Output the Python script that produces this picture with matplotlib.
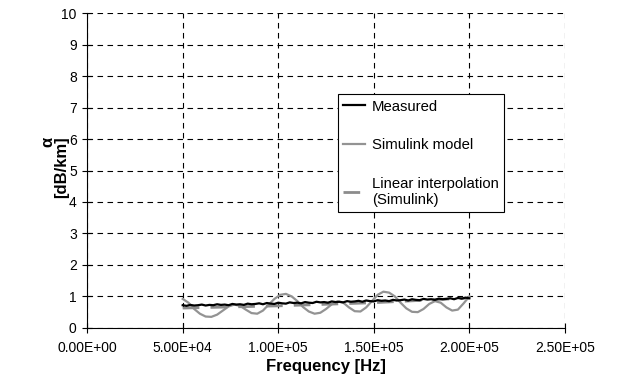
import numpy as np
import matplotlib
matplotlib.use("Agg")
import matplotlib.pyplot as plt

plt.rcParams['font.family'] = ['Liberation Sans', 'DejaVu Sans']

# Measured attenuation, sampled every 2 kHz from 50 kHz to 200 kHz
meas_freq = np.arange(50000, 200001, 2000)
meas_alpha = [0.72, 0.70, 0.73, 0.71, 0.72, 0.74, 0.71, 0.73, 0.72, 0.75,
              0.73, 0.74, 0.72, 0.76, 0.74, 0.75, 0.73, 0.77, 0.75, 0.76,
              0.78, 0.75, 0.79, 0.77, 0.76, 0.80, 0.78, 0.77, 0.81, 0.79,
              0.80, 0.78, 0.82, 0.80, 0.79, 0.83, 0.81, 0.82, 0.80, 0.84,
              0.82, 0.83, 0.81, 0.85, 0.83, 0.84, 0.86, 0.83, 0.87, 0.85,
              0.84, 0.88, 0.86, 0.87, 0.85, 0.89, 0.87, 0.88, 0.90, 0.87,
              0.91, 0.89, 0.88, 0.92, 0.90, 0.91, 0.89, 0.93, 0.91, 0.92,
              0.94, 0.91, 0.95, 0.93, 0.96, 0.94]

# Simulink model, sampled every 3 kHz
sim_freq = [50000, 53000, 56000, 59000, 62000, 65000, 68000, 71000, 74000, 77000,
            80000, 83000, 86000, 89000, 92000, 95000, 98000, 101000, 104000, 107000,
            110000, 113000, 116000, 119000, 122000, 125000, 128000, 131000, 134000, 137000,
            140000, 143000, 146000, 149000, 152000, 155000, 158000, 161000, 164000, 167000,
            170000, 173000, 176000, 179000, 182000, 185000, 188000, 191000, 194000, 197000,
            200000]
sim_alpha = [0.92, 0.80, 0.60, 0.45, 0.36, 0.35, 0.42, 0.55, 0.68, 0.74,
             0.70, 0.58, 0.47, 0.45, 0.55, 0.74, 0.92, 1.05, 1.08, 1.00,
             0.85, 0.66, 0.52, 0.45, 0.48, 0.60, 0.75, 0.84, 0.80, 0.65,
             0.53, 0.52, 0.65, 0.85, 1.05, 1.15, 1.12, 1.00, 0.80, 0.62,
             0.51, 0.50, 0.60, 0.76, 0.85, 0.80, 0.65, 0.55, 0.58, 0.78,
             1.00]

# Linear interpolation (Simulink)
lin_freq = [50000, 100000, 150000, 200000]
lin_alpha = [0.63, 0.70, 0.80, 0.95]

x_ticks = [0, 50000, 100000, 150000, 200000, 250000]
x_labels = ['0.00E+00', '5.00E+04', '1.00E+05', '1.50E+05', '2.00E+05', '2.50E+05']

fig = plt.figure(figsize=(6.27, 3.76), dpi=100)
ax = fig.add_axes([0.139, 0.128, 0.762, 0.837])

ax.plot(meas_freq, meas_alpha, color='black', lw=1.6, label='Measured', zorder=4)
ax.plot(sim_freq, sim_alpha, color='#939393', lw=1.6, label='Simulink model', zorder=3)
ax.plot(lin_freq, lin_alpha, color='#8c8c8c', lw=2.0, dashes=(6, 4),
        label='Linear interpolation\n(Simulink)', zorder=3)

ax.set_xlim(0, 250000)
ax.set_ylim(0, 10)
ax.set_xticks(x_ticks)
ax.set_xticklabels(x_labels)
ax.set_yticks(range(11))
ax.tick_params(direction='inout', length=7, width=0.8, labelsize=10, colors='black')
ax.tick_params(axis='x', pad=6)
ax.tick_params(axis='y', pad=4)

ax.grid(True, color='black', lw=0.8, dashes=(5, 4))
for side in ['top', 'right']:
    ax.spines[side].set_visible(False)
for side in ['left', 'bottom']:
    ax.spines[side].set_linewidth(0.8)

ax.set_xlabel('Frequency [Hz]', fontsize=12, fontweight='bold', labelpad=3)
ax.set_ylabel('α\n[dB/km]', fontsize=12, fontweight='bold',
              multialignment='right', linespacing=0.95)
ax.yaxis.set_label_coords(-0.037, 0.51)

leg = ax.legend(loc='upper left', bbox_to_anchor=(0.525, 0.742), fontsize=10.7,
                frameon=True, fancybox=False, edgecolor='black', framealpha=1,
                handlelength=1.5, handletextpad=0.45, labelspacing=1.65,
                borderpad=0.35, borderaxespad=0)
leg.get_frame().set_linewidth(0.8)

fig.savefig('out.png', dpi=100)
